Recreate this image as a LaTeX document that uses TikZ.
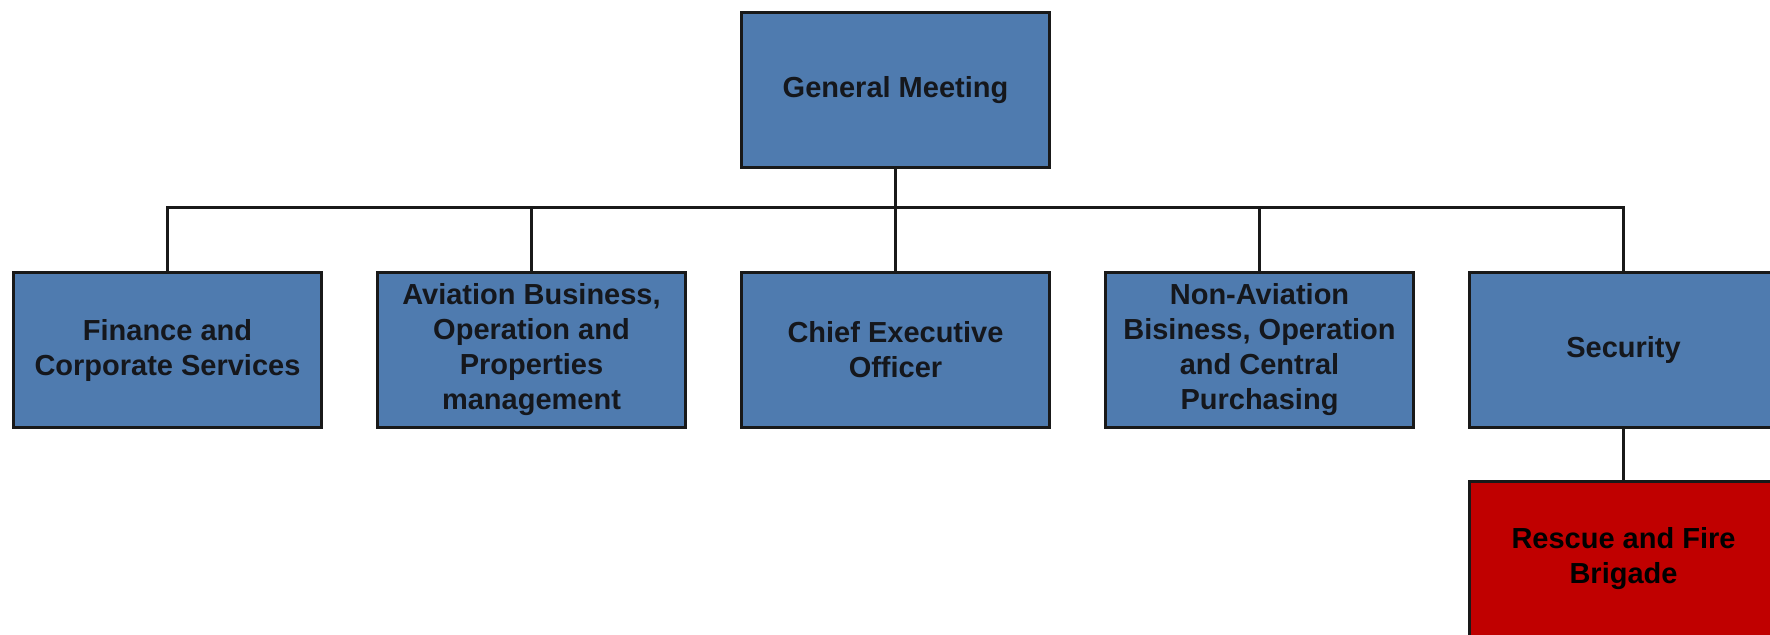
\documentclass[tikz,border=0pt]{standalone}
\usepackage{fontspec}
\setmainfont{Liberation Sans}
\definecolor{boxblue}{HTML}{4F7BAF}
\definecolor{boxred}{HTML}{C00000}
\definecolor{txt}{HTML}{15171C}
\begin{document}
\begin{tikzpicture}[x=0.5pt,y=-0.5pt,
  orgbox/.style={draw=black!90, line width=1.5pt, fill=boxblue, minimum width=154pt, minimum height=77.5pt,
    inner sep=0pt, align=center, text=txt, font=\fontsize{14.5}{17.5}\selectfont\bfseries},
  redbox/.style={orgbox, fill=boxred, text=black},
  conn/.style={line width=1.5pt, black!90}]
\clip (0,0) rectangle (1770,634);
\fill[white] (0,0) rectangle (1770,634);
\node[orgbox] (gm) at (895.5,90) {General Meeting};
\node[orgbox] (fin) at (167.5,350) {Finance and\\Corporate Services};
\node[orgbox] (avi) at (531.5,350) {Aviation Business,\\Operation and\\Properties\\management};
\node[orgbox] (ceo) at (895.5,350) {Chief Executive\\Officer};
\node[orgbox] (non) at (1259.5,350) {Non-Aviation\\Bisiness, Operation\\and Central\\Purchasing};
\node[orgbox] (sec) at (1623.5,350) {Security};
\node[redbox] (rfb) at (1623.5,559) {Rescue and Fire\\Brigade};
\coordinate (bus) at (0,207);
\draw[conn] (gm.south) -- (gm.south|-bus) -| (fin.north);
\draw[conn] (gm.south|-bus) -| (avi.north);
\draw[conn] (gm.south) -- (ceo.north);
\draw[conn] (gm.south|-bus) -| (non.north);
\draw[conn] (gm.south|-bus) -| (sec.north);
\draw[conn] (sec.south) -- (rfb.north);
\end{tikzpicture}
\end{document}
